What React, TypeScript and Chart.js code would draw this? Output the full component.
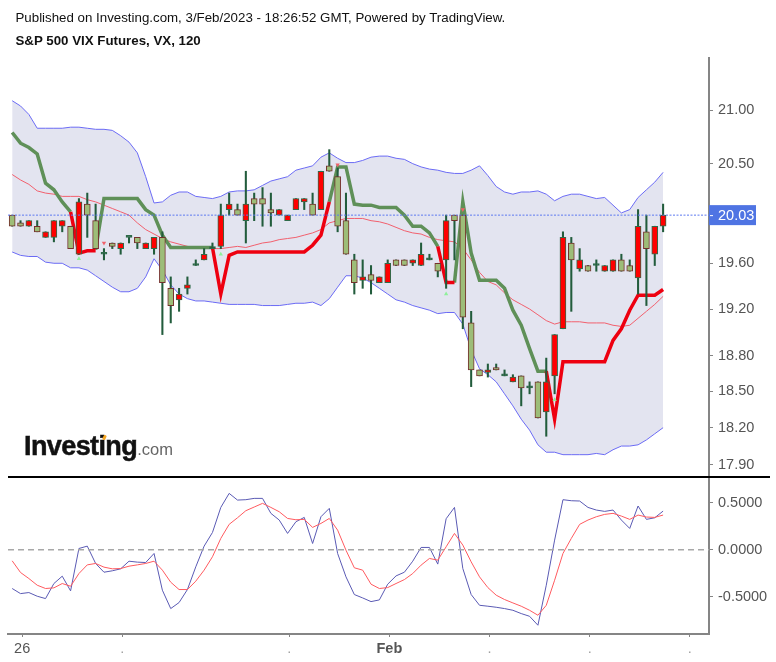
import { useEffect, useRef } from "react";
import { Chart, registerables } from "chart.js";

Chart.register(...registerables);

const _ = null;

// 84 slots on the time axis, candles fill the first 79
const timeLabels = Array.from({ length: 84 }, (_v, i) =>
  i === 1 ? "26" : i === 45 ? "Feb" : [13, 33, 57, 69, 81].includes(i) ? "." : ""
);
const tickSlots = [1, 13, 33, 45, 57, 69, 81];
// the source axis draws its ticks a little right of the candle centres
const tickNudge = 0.2;

const opens = [
  20.03, 19.96, 19.93, 19.93, 19.83, 19.83, 19.93, 19.93, 19.68, 20.13,
  19.98, 19.68, 19.78, 19.73, 19.83, 19.83, 19.73, 19.73, 19.83, 19.38,
  19.28, 19.38, 19.58, 19.63, 19.73, 19.75, 20.08, 20.08, 19.98, 20.18,
  20.18, 20.08, 20.03, 19.98, 20.08, 20.15, 20.13, 20.08, 20.48, 20.38,
  19.98, 19.63, 19.45, 19.50, 19.43, 19.43, 19.63, 19.63, 19.60, 19.58,
  19.63, 19.60, 19.63, 20.03, 20.03, 19.08, 18.68, 18.66, 18.70, 18.63,
  18.58, 18.63, 18.53, 18.58, 18.33, 18.63, 19.03, 19.78, 19.55, 19.58,
  19.58, 19.53, 19.53, 19.63, 19.58, 19.47, 19.88, 19.68, 19.93,
];
const closes = [
  19.93, 19.93, 19.98, 19.88, 19.88, 19.98, 19.98, 19.73, 20.15, 20.03,
  19.73, 19.68, 19.75, 19.78, 19.83, 19.78, 19.78, 19.83, 19.43, 19.23,
  19.33, 19.41, 19.58, 19.68, 19.73, 20.03, 20.13, 20.03, 20.13, 20.13,
  20.13, 20.05, 20.08, 20.03, 20.18, 20.18, 20.03, 20.43, 20.43, 19.93,
  19.68, 19.43, 19.48, 19.45, 19.48, 19.60, 19.58, 19.58, 19.63, 19.68,
  19.63, 19.53, 19.98, 19.98, 19.13, 18.68, 18.63, 18.68, 18.68, 18.63,
  18.62, 18.53, 18.53, 18.28, 18.58, 18.98, 19.83, 19.63, 19.63, 19.53,
  19.58, 19.58, 19.63, 19.53, 19.53, 19.93, 19.73, 19.93, 20.03,
];
const highs = [
  20.03, 19.98, 19.98, 19.98, 19.88, 19.98, 19.98, 19.93, 20.18, 20.23,
  20.13, 19.73, 19.78, 19.78, 19.83, 19.83, 19.78, 19.83, 19.88, 19.48,
  19.38, 19.48, 19.63, 19.73, 19.78, 20.13, 20.23, 20.13, 20.43, 20.23,
  20.28, 20.23, 20.08, 20.03, 20.18, 20.18, 20.23, 20.43, 20.63, 20.46,
  20.23, 19.68, 19.63, 19.58, 19.48, 19.63, 19.63, 19.63, 19.63, 19.78,
  19.68, 19.60, 20.03, 20.03, 20.03, 19.18, 18.68, 18.73, 18.73, 18.68,
  18.64, 18.63, 18.58, 18.58, 18.78, 18.98, 19.88, 19.83, 19.73, 19.58,
  19.63, 19.58, 19.63, 19.68, 19.63, 20.08, 20.03, 19.93, 20.13,
];
const lows = [
  19.93, 19.93, 19.93, 19.88, 19.83, 19.79, 19.88, 19.73, 19.68, 19.83,
  19.73, 19.63, 19.73, 19.68, 19.78, 19.73, 19.73, 19.68, 18.98, 19.08,
  19.18, 19.33, 19.58, 19.63, 19.73, 19.73, 20.03, 20.03, 19.78, 19.98,
  19.93, 19.93, 20.03, 19.98, 20.08, 20.08, 20.03, 20.08, 20.43, 19.88,
  19.68, 19.33, 19.38, 19.33, 19.43, 19.43, 19.58, 19.58, 19.58, 19.58,
  19.63, 19.48, 19.38, 19.63, 19.03, 18.54, 18.63, 18.62, 18.68, 18.63,
  18.58, 18.38, 18.48, 18.28, 18.13, 18.48, 19.03, 19.18, 19.53, 19.53,
  19.53, 19.53, 19.53, 19.53, 19.53, 19.33, 19.23, 19.58, 19.88,
];

const bandUpper = [
  21.09, 21.04, 20.96, 20.83, 20.83, 20.83, 20.83, 20.84, 20.84, 20.83,
  20.82, 20.82, 20.81, 20.76, 20.70, 20.60, 20.38, 20.14, 20.15, 20.21,
  20.24, 20.24, 20.20, 20.19, 20.18, 20.20, 20.24, 20.25, 20.25, 20.26,
  20.30, 20.34, 20.36, 20.38, 20.44, 20.46, 20.48, 20.56, 20.60, 20.55,
  20.51, 20.51, 20.53, 20.56, 20.57, 20.57, 20.55, 20.54, 20.50, 20.47,
  20.45, 20.44, 20.42, 20.41, 20.41, 20.44, 20.48, 20.39, 20.29, 20.24,
  20.22, 20.24, 20.24, 20.25, 20.22, 20.16, 20.20, 20.22, 20.22, 20.20,
  20.18, 20.19, 20.12, 20.05, 20.08, 20.19, 20.26, 20.33, 20.42,
];
const bandLower = [
  19.70, 19.67, 19.66, 19.66, 19.61, 19.60, 19.60, 19.56, 19.56, 19.54,
  19.49, 19.44, 19.39, 19.35, 19.35, 19.38, 19.48, 19.64, 19.54, 19.41,
  19.33, 19.29, 19.27, 19.27, 19.26, 19.25, 19.24, 19.24, 19.24, 19.24,
  19.23, 19.23, 19.23, 19.24, 19.25, 19.25, 19.26, 19.23, 19.29, 19.39,
  19.49, 19.49, 19.47, 19.43, 19.38, 19.33, 19.28, 19.26, 19.23, 19.21,
  19.19, 19.16, 19.17, 19.17, 19.07, 18.85, 18.69, 18.64, 18.58, 18.48,
  18.38, 18.27, 18.18, 18.06, 18.00, 18.00, 17.98, 17.98, 17.98, 17.98,
  17.99, 17.98, 18.02, 18.05, 18.05, 18.06, 18.10, 18.15, 18.20,
];
const bandMiddle = [
  20.40, 20.35, 20.31, 20.25, 20.23, 20.22, 20.20, 20.20, 20.20, 20.17,
  20.15, 20.12, 20.09, 20.06, 20.03, 19.96, 19.90, 19.86, 19.82, 19.79,
  19.77, 19.75, 19.74, 19.74, 19.73, 19.73, 19.74, 19.75, 19.74, 19.76,
  19.78, 19.79, 19.81, 19.82, 19.83, 19.85, 19.87, 19.90, 19.96, 19.98,
  20.00, 20.00, 20.00, 19.98, 19.97, 19.95, 19.92, 19.89, 19.87, 19.86,
  19.83, 19.81, 19.80, 19.79, 19.73, 19.63, 19.52, 19.44, 19.41, 19.34,
  19.28, 19.24, 19.20, 19.15, 19.10, 19.07, 19.09, 19.09, 19.09, 19.08,
  19.08, 19.08, 19.06, 19.05, 19.06, 19.12, 19.18, 19.24, 19.31,
];

const trendGreen = [
  20.79, 20.69, 20.65, 20.59, 20.32, 20.26, 20.15, 20.06, _, _,
  19.72, 20.18, 20.18, 20.18, 20.18, 20.18, 20.08, 20.03, 19.85, 19.74,
  19.74, 19.74, 19.74, 19.74, 19.74, _, _, _, _, _,
  _, _, _, _, _, _, _, _, 20.15, 20.47,
  20.47, 20.13, 20.12, 20.12, 20.10, 20.10, 20.10, 20.03, 19.93, 19.93,
  19.87, 19.75, _, 19.43, 20.15, 19.69, 19.45, 19.45, 19.45, 19.38,
  19.19, 19.06, 18.86, 18.67, 18.67,
];
const trendRed = [
  _, _, _, _, _, _, _, 20.06, 19.69, 19.71,
  19.71, _, _, _, _, _, _, _, _, _,
  _, _, _, _, 19.74, 19.33, 19.67, 19.70, 19.70, 19.70,
  19.70, 19.70, 19.70, 19.70, 19.70, 19.70, 19.76, 19.85, 20.15, _,
  _, _, _, _, _, _, _, _, _, _,
  _, 19.75, 19.43, 19.43, _, _, _, _, _, _,
  _, _, _, _, 18.67, 18.27, 18.75, 18.75, 18.75, 18.75,
  18.75, 18.75, 18.93, 19.03, 19.19, 19.32, 19.32, 19.32, 19.37,
];

// small signal arrows, [slot, price]
const signalsUp: [number, number][] = [[8, 19.64], [25, 19.68], [52, 19.33], [65, 18.43]];
const signalsDown: [number, number][] = [[11, 19.78], [39, 20.49], [54, 20.08]];

const oscBlue = [
  -0.411, -0.465, -0.454, -0.493, -0.518, -0.358, -0.28, -0.436, 0.014, 0.039,
  -0.145, -0.238, -0.223, -0.202, -0.121, -0.131, -0.135, -0.039, -0.429, -0.624,
  -0.56, -0.422, -0.181, 0.039, 0.184, 0.45, 0.599, 0.528, 0.532, 0.546,
  0.546, 0.387, 0.316, 0.174, 0.298, 0.344, 0.067, 0.351, 0.44, -0.039,
  -0.287, -0.475, -0.511, -0.55, -0.532, -0.365, -0.277, -0.238, -0.121, 0.025,
  0.025, -0.152, 0.33, 0.45, -0.199, -0.475, -0.589, -0.599, -0.61, -0.624,
  -0.642, -0.677, -0.706, -0.801, -0.376, 0.103, 0.532, 0.521, 0.518, 0.45,
  0.422, 0.408, 0.422, 0.316, 0.227, 0.465, 0.323, 0.34, 0.411,
];
const oscRed = [
  -0.117, -0.241, -0.305, -0.376, -0.411, -0.404, -0.358, -0.387, -0.252, -0.16,
  -0.145, -0.184, -0.202, -0.199, -0.174, -0.16, -0.145, -0.121, -0.216, -0.344,
  -0.422, -0.422, -0.333, -0.216, -0.074, 0.121, 0.27, 0.34, 0.415, 0.454,
  0.493, 0.45, 0.404, 0.333, 0.319, 0.323, 0.238, 0.28, 0.333, 0.209,
  -0.004, -0.191, -0.216, -0.365, -0.411, -0.401, -0.358, -0.316, -0.252, -0.163,
  -0.092, -0.11, 0.032, 0.174, 0.05, -0.128, -0.287, -0.401, -0.482, -0.528,
  -0.564, -0.599, -0.642, -0.695, -0.589, -0.323, -0.039, 0.121, 0.27, 0.316,
  0.351, 0.376, 0.387, 0.358, 0.323, 0.369, 0.348, 0.344, 0.369,
];

const priceTicks = [21, 20.5, 19.6, 19.2, 18.8, 18.5, 18.2, 17.9];
const oscTicks = [0.5, 0, -0.5];
const lastPrice = 20.03;

const AXIS = "#858585";
const TEXT = "#555555";
const FONT = "'Liberation Sans', Arial, sans-serif";

const slotSeries = (points: [number, number][]) =>
  timeLabels.map((_l, i) => points.find((p) => p[0] === i)?.[1] ?? null);

// dotted last-price line, blue tag on the axis, dashed zero line, black separator
const overlayPlugin = {
  id: "overlay",
  afterDatasetsDraw(chart: any) {
    const { ctx, chartArea, scales } = chart;
    const yPrice = scales.y.getPixelForValue(lastPrice);
    const yZero = scales.y2.getPixelForValue(0);
    ctx.save();
    ctx.lineWidth = 1;
    ctx.strokeStyle = "#5b78f0";
    ctx.setLineDash([2, 1.5]);
    ctx.beginPath();
    ctx.moveTo(chartArea.left, yPrice);
    ctx.lineTo(chartArea.right, yPrice);
    ctx.stroke();
    ctx.strokeStyle = "#a8a8a8";
    ctx.lineWidth = 1.5;
    ctx.setLineDash([6, 4]);
    ctx.beginPath();
    ctx.moveTo(chartArea.left, yZero);
    ctx.lineTo(chartArea.right, yZero);
    ctx.stroke();
    ctx.setLineDash([]);
    ctx.strokeStyle = "#000000";
    ctx.lineWidth = 2;
    ctx.beginPath();
    ctx.moveTo(chartArea.left, scales.y2.top);
    ctx.lineTo(chart.width - 6, scales.y2.top);
    ctx.stroke();
    ctx.fillStyle = "#4f74e3";
    ctx.fillRect(chartArea.right, yPrice - 10, 47, 20);
    ctx.strokeStyle = "#ffffff";
    ctx.lineWidth = 1;
    ctx.beginPath();
    ctx.moveTo(chartArea.right + 1, yPrice + 0.5);
    ctx.lineTo(chartArea.right + 4, yPrice + 0.5);
    ctx.stroke();
    ctx.fillStyle = "#ffffff";
    ctx.font = `14.5px ${FONT}`;
    ctx.textAlign = "left";
    ctx.textBaseline = "middle";
    ctx.fillText(lastPrice.toFixed(2), chartArea.right + 9, yPrice + 1);
    ctx.restore();
  },
};

const App = () => {
  const canvasRef = useRef<HTMLCanvasElement | null>(null);

  useEffect(() => {
    if (!canvasRef.current) return;

    const isUp = closes.map((c, i) => c >= opens[i]);
    const isDoji = closes.map((c, i) => c === opens[i]);
    const lineBase = { pointRadius: 0, tension: 0, yAxisID: "y", type: "line" as const };

    const chart = new Chart(canvasRef.current, {
      type: "bar",
      data: {
        labels: timeLabels,
        datasets: [
          {
            ...lineBase,
            label: "Upper band",
            data: bandUpper,
            borderColor: "#6b6bf5",
            borderWidth: 1,
            backgroundColor: "#e3e4f0",
            fill: { target: 1 },
            order: 10,
          },
          {
            ...lineBase,
            label: "Lower band",
            data: bandLower,
            borderColor: "#6b6bf5",
            borderWidth: 1,
            order: 9,
          },
          {
            ...lineBase,
            label: "Middle band",
            data: bandMiddle,
            borderColor: "#f2606e",
            borderWidth: 1,
            order: 8,
          },
          {
            ...lineBase,
            label: "Trend up",
            data: trendGreen,
            borderColor: "#5f9058",
            borderWidth: 3.5,
            order: 7,
          },
          {
            ...lineBase,
            label: "Trend down",
            data: trendRed,
            borderColor: "#ee0010",
            borderWidth: 3.5,
            order: 6,
          },
          {
            label: "Wick",
            yAxisID: "y",
            data: highs.map((h, i) => [lows[i], h]),
            backgroundColor: "#225c3c",
            barThickness: 1.4,
            grouped: false,
            order: 5,
          },
          {
            label: "Body",
            yAxisID: "y",
            data: opens.map((o, i) => [o, closes[i]]),
            backgroundColor: isUp.map((u, i) => (isDoji[i] ? "#225c3c" : u ? "#ff0000" : "#9dbd78")),
            borderColor: isUp.map((u) => (u ? "#2f6b4a" : "#74302c")),
            borderWidth: 1,
            borderSkipped: false,
            barThickness: 6,
            minBarLength: 2,
            grouped: false,
            order: 4,
          },
          {
            ...lineBase,
            label: "Signal up",
            data: slotSeries(signalsUp),
            showLine: false,
            pointRadius: 2.5,
            pointStyle: "triangle",
            pointBackgroundColor: "#8ef09a",
            pointBorderWidth: 0,
            order: 3,
          },
          {
            ...lineBase,
            label: "Signal down",
            data: slotSeries(signalsDown),
            showLine: false,
            pointRadius: 2.5,
            pointStyle: "triangle",
            pointRotation: 180,
            pointBackgroundColor: "#f0606a",
            pointBorderWidth: 0,
            order: 3,
          },
          {
            ...lineBase,
            label: "Oscillator",
            yAxisID: "y2",
            data: oscBlue,
            borderColor: "#5a5ab4",
            borderWidth: 1,
            order: 2,
          },
          {
            ...lineBase,
            label: "Signal",
            yAxisID: "y2",
            data: oscRed,
            borderColor: "#ff5a5f",
            borderWidth: 1,
            order: 1,
          },
        ] as any,
      },
      options: {
        responsive: false,
        animation: false,
        layout: { padding: { left: 8, top: 58, right: 0, bottom: 0 } },
        plugins: { legend: { display: false }, tooltip: { enabled: false } },
        scales: {
          x: {
            type: "category",
            offset: true,
            grid: { offset: false, drawOnChartArea: false, drawTicks: true, tickLength: 3, color: AXIS },
            border: { color: AXIS, width: 2 },
            ticks: {
              autoSkip: false,
              maxRotation: 0,
              padding: 3,
              color: (c: any) => (c.tick?.label === "." ? "#a0a0a0" : TEXT),
              font: (c: any) => ({
                family: FONT,
                size: 14.5,
                weight: c.tick?.label === "Feb" ? "bold" : "normal",
              }),
              callback: (v: any) => timeLabels[Math.round(v)],
            },
            afterBuildTicks: (s: any) => {
              s.ticks = tickSlots.map((i) => ({ value: i + tickNudge }));
            },
            afterFit: (s: any) => {
              s.height = 28;
            },
          },
          y: {
            type: "logarithmic",
            position: "right",
            stack: "panes",
            stackWeight: 419,
            min: 17.8,
            max: 21.5,
            grid: { drawOnChartArea: false, tickLength: 4, color: AXIS },
            border: { color: AXIS, width: 2 },
            ticks: {
              autoSkip: false,
              crossAlign: "near",
              padding: 5,
              color: TEXT,
              font: { family: FONT, size: 14.5 },
              callback: (v: any) => Number(v).toFixed(2),
            },
            afterBuildTicks: (s: any) => {
              s.ticks = priceTicks.map((value) => ({ value }));
            },
            afterFit: (s: any) => {
              s.width = 67;
            },
          },
          y2: {
            type: "linear",
            position: "right",
            stack: "panes",
            stackWeight: 157,
            min: -0.894,
            max: 0.773,
            grid: { drawOnChartArea: false, tickLength: 4, color: AXIS },
            border: { color: AXIS, width: 2 },
            ticks: {
              autoSkip: false,
              crossAlign: "near",
              padding: 5,
              color: TEXT,
              font: { family: FONT, size: 14.5 },
              callback: (v: any) => Number(v).toFixed(4),
            },
            afterBuildTicks: (s: any) => {
              s.ticks = oscTicks.map((value) => ({ value }));
            },
            afterFit: (s: any) => {
              s.width = 67;
            },
          },
        },
      } as any,
      plugins: [overlayPlugin],
    });

    return () => {
      chart.destroy();
    };
  }, []);

  const textStyle = {
    position: "absolute" as const,
    left: 15.5,
    fontFamily: FONT,
    fontSize: 13.3,
    color: "#111111",
    whiteSpace: "nowrap" as const,
  };

  return (
    <div style={{ position: "absolute", left: 0, top: 0, width: 776, height: 662, background: "#fff", overflow: "hidden" }}>
      <canvas ref={canvasRef} width={776} height={662} style={{ position: "absolute", left: 0, top: 0 }} />
      <div style={{ ...textStyle, top: 10 }}>
        Published on Investing.com, 3/Feb/2023 - 18:26:52 GMT, Powered by TradingView.
      </div>
      <div style={{ ...textStyle, top: 33, fontWeight: "bold" }}>S&amp;P 500 VIX Futures, VX, 120</div>
      <div style={{ position: "absolute", left: 24, top: 431, fontFamily: FONT, whiteSpace: "nowrap", color: "#111" }}>
        <span style={{ fontSize: 27, fontWeight: "bold", letterSpacing: -0.6, WebkitTextStroke: "0.5px #111" }}>Investing</span>
        <span style={{ fontSize: 16.5, color: "#666" }}>.com</span>
      </div>
      <div style={{ position: "absolute", left: 103, top: 435, width: 3, height: 5, background: "#f5a623", borderRadius: 1, transform: "rotate(25deg)" }} />
    </div>
  );
};

export default App;
